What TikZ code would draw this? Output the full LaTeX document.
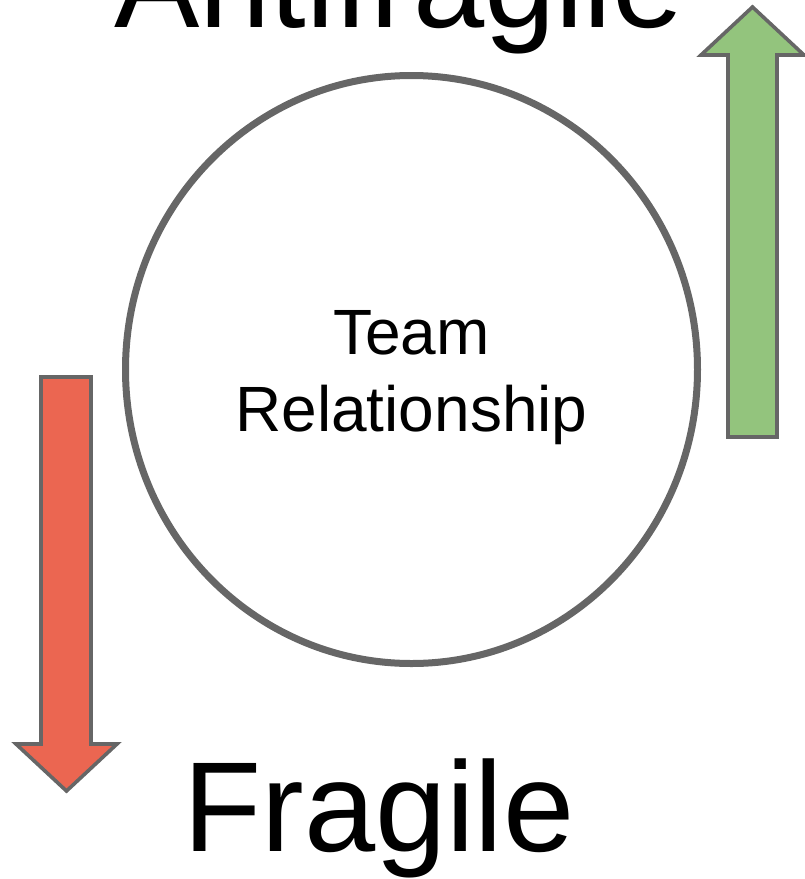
\documentclass[tikz,border=0pt]{standalone}
\usepackage{fontspec}
\setmainfont{Liberation Sans}
\usepackage{xcolor}
\usetikzlibrary{shapes.geometric}

\definecolor{edgegray}{HTML}{666666}
\definecolor{upgreen}{HTML}{93C47D}
\definecolor{downred}{HTML}{EB6651}

\begin{document}
\begin{tikzpicture}[x=1pt, y=-1pt,
		teamcircle/.style={ellipse, draw=edgegray, line width=7pt, minimum width=572pt, minimum height=588pt, inner sep=0pt},
		bigword/.style={font=\fontsize{128}{150}\selectfont, anchor=base, inner sep=0pt},
		bodytext/.style={font=\fontsize{64}{77}\selectfont, align=center, inner sep=0pt},
		blockarrow/.style={draw=edgegray, line width=3.6pt, line join=miter}]
		% Define canvas
		\useasboundingbox (0,0) rectangle (805,879);

		% Draw the circle and its text
		\node[teamcircle] (rel) at (411.5,369.5) {};
		\node[bodytext] (reltext) at (411.5,378) {Team\\Relationship};

		% Draw the two words
		\node[bigword] (anti) at (399,27) {Antifragile};
		\node[bigword] (fragile) at (379,851) {Fragile};

		% Draw the arrows
		\filldraw[blockarrow, fill=upgreen] (728,437) -- (728,55) -- (701,55) -- (752.5,7) -- (804,55) -- (777,55) -- (777,437) -- cycle;
		\filldraw[blockarrow, fill=downred] (41,377) -- (41,744) -- (16,744) -- (66.5,791) -- (117,744) -- (91,744) -- (91,377) -- cycle;
	\end{tikzpicture}
\end{document}
